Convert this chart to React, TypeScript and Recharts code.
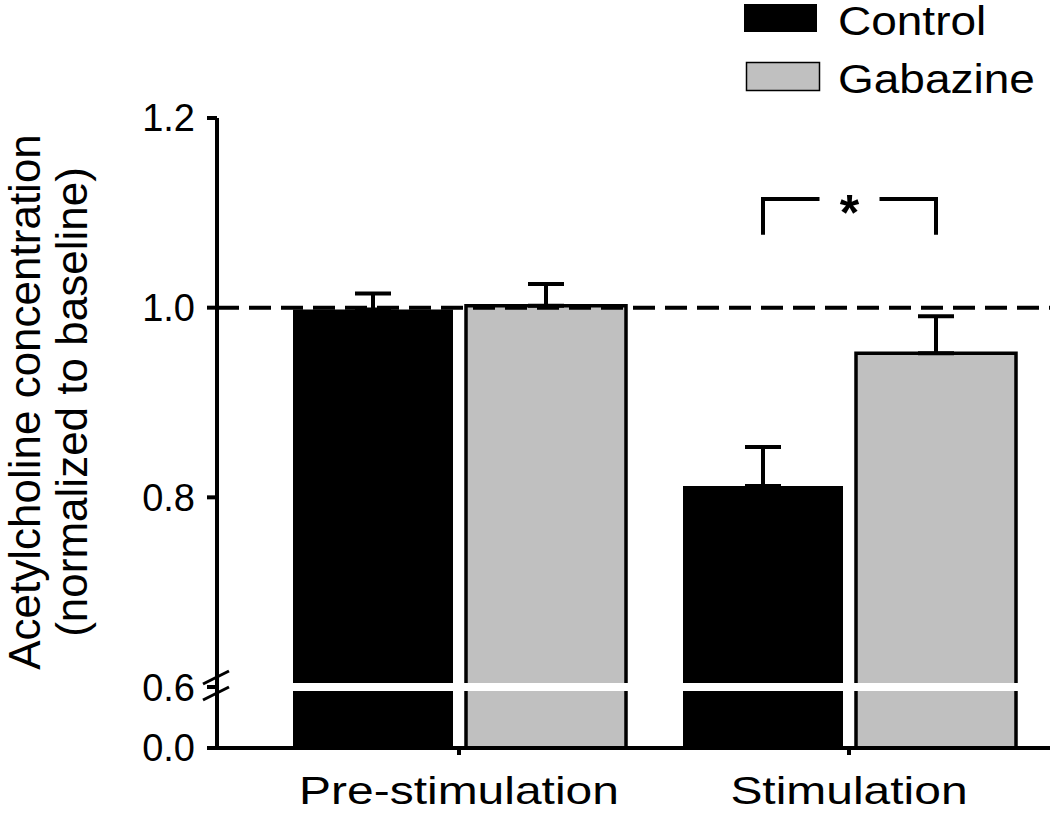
import { BarChart, Bar, XAxis, YAxis, ReferenceLine, ErrorBar, Legend } from "recharts";

const CATEGORIES = ["Pre-stimulation", "Stimulation"];
const CONTROL = [0.998, 0.812];
const CONTROL_ERR = [0.017, 0.041];
const GABAZINE = [1.002, 0.952];
const GABAZINE_ERR = [0.023, 0.039];

// broken axis: the 0.0–0.6 stretch is squeezed into a short stub under the break
const Y_MIN = 0.5357;
const Y_MAX = 1.2;
const Y_TICKS = [Y_MIN, 0.6, 0.8, 1.0, 1.2];
const Y_TICK_LABELS = ["0.0", "0.6", "0.8", "1.0", "1.2"];
const BREAK_AT = 0.6;
const BASELINE = 1.0;

// significance bracket over Stimulation (control vs gabazine)
const SIG_INDEX = 1;
const SIG_TOP = 1.1145;
const SIG_FOOT = 1.077;
const SIG_MARK = "*";

const FONT = "'Liberation Sans', Arial, Helvetica, sans-serif";
const BAR_SIZE = 160;
const BAR_GAP = 13;

const data = CATEGORIES.map((name, i) => ({
  name,
  control: CONTROL[i],
  controlErr: [0, CONTROL_ERR[i]],
  gabazine: GABAZINE[i],
  gabazineErr: [0, GABAZINE_ERR[i]],
}));

// the original figure's lettering is a touch wider than Arial, hence the scaleX
function XTick({ x, y, payload }: any) {
  return (
    <text
      transform={`translate(${x},${y + 47}) scale(1.23,1)`}
      textAnchor="middle"
      fontSize={39}
      fontFamily={FONT}
      fill="#000"
    >
      {payload.value}
    </text>
  );
}

function YTitle({ viewBox }: any) {
  const cy = viewBox.y + viewBox.height / 2 - 31;
  return (
    <g transform={`translate(${viewBox.x + 40},${cy}) rotate(-90)`} fontFamily={FONT} fontSize={44} fill="#000">
      <text x={0} y={0} textAnchor="middle">Acetylcholine concentration</text>
      <text x={0} y={47} textAnchor="middle">(normalized to baseline)</text>
    </g>
  );
}

// white gap across the bars plus the "//" on the axis
function AxisBreak(props: any) {
  const { x1, x2, y1 } = props;
  return (
    <g>
      <line x1={x1 - 12} x2={x2} y1={y1} y2={y1} stroke="#fff" strokeWidth={8} />
      <line x1={x1 - 14} y1={y1 - 3} x2={x1 + 12} y2={y1 - 16} stroke="#000" strokeWidth={3} />
      <line x1={x1 - 14} y1={y1 + 13} x2={x1 + 12} y2={y1} stroke="#000" strokeWidth={3} />
    </g>
  );
}

function SigBracket(props: any) {
  const { x, y, width, height, index } = props;
  if (index !== SIG_INDEX) return null;
  const value = typeof props.value === "number" ? props.value : CONTROL[index];
  const ppu = height / (value - Y_MIN);
  const xa = x + width / 2;
  const xb = xa + width + BAR_GAP;
  const mid = (xa + xb) / 2;
  const yTop = y - (SIG_TOP - value) * ppu;
  const yFoot = y - (SIG_FOOT - value) * ppu;
  return (
    <g>
      <polyline points={`${xa},${yFoot} ${xa},${yTop} ${mid - 30},${yTop}`} fill="none" stroke="#000" strokeWidth={4} />
      <polyline points={`${mid + 30},${yTop} ${xb},${yTop} ${xb},${yFoot}`} fill="none" stroke="#000" strokeWidth={4} />
      <text x={mid} y={yTop + 31} textAnchor="middle" fontSize={50} fontWeight="bold" fontFamily={FONT} fill="#000">
        {SIG_MARK}
      </text>
    </g>
  );
}

function LegendBox({ payload }: any) {
  return (
    <svg width={306} height={110}>
      {(payload || []).map((p: any, i: number) => {
        const stroke = p.payload?.stroke;
        return (
          <g key={p.value} transform={`translate(0,${i * 58})`}>
            <rect
              x={stroke ? 2.5 : 0}
              y={stroke ? 4.5 : 4}
              width={73}
              height={28}
              fill={p.color}
              stroke={stroke || "none"}
              strokeWidth={1.5}
            />
            <text transform="translate(94,35) scale(1.15,1)" fontSize={40} fontFamily={FONT} fill="#000">
              {p.value}
            </text>
          </g>
        );
      })}
    </svg>
  );
}

export default function App() {
  return (
    <div style={{ position: "absolute", left: 0, top: 0, width: 1050, height: 816, background: "#fff" }}>
      <BarChart
        width={1050}
        height={816}
        data={data}
        margin={{ top: 118, right: 0, left: 0, bottom: 8 }}
        barSize={BAR_SIZE}
        barGap={BAR_GAP}
      >
        <XAxis
          dataKey="name"
          height={60}
          padding={{ left: 47, right: 6 }}
          axisLine={{ stroke: "#000", strokeWidth: 4 }}
          tickLine={{ stroke: "#000", strokeWidth: 4 }}
          tickSize={7}
          tickMargin={2}
          tick={<XTick />}
          interval={0}
        />
        <YAxis
          type="number"
          width={217}
          domain={[Y_MIN, Y_MAX]}
          ticks={Y_TICKS}
          interval={0}
          allowDataOverflow
          tickFormatter={(_v: number, i: number) => Y_TICK_LABELS[i]}
          axisLine={{ stroke: "#000", strokeWidth: 4 }}
          tickLine={{ stroke: "#000", strokeWidth: 4 }}
          tickSize={10}
          tickMargin={12}
          tick={{ fontSize: 38, fill: "#000", fontFamily: FONT }}
          label={<YTitle />}
        />
        <Legend
          layout="vertical"
          align="center"
          verticalAlign="middle"
          wrapperStyle={{ left: 744, top: 0, width: 306, height: 110 }}
          content={<LegendBox />}
        />
        <Bar dataKey="control" name="Control" fill="#000" isAnimationActive={false} label={<SigBracket />}>
          <ErrorBar dataKey="controlErr" direction="y" width={18} stroke="#000" strokeWidth={4} isAnimationActive={false} />
        </Bar>
        <Bar dataKey="gabazine" name="Gabazine" fill="#c0c0c0" stroke="#000" strokeWidth={3.5} isAnimationActive={false}>
          <ErrorBar dataKey="gabazineErr" direction="y" width={18} stroke="#000" strokeWidth={4} isAnimationActive={false} />
        </Bar>
        <ReferenceLine y={BASELINE} stroke="#000" strokeWidth={4} strokeDasharray="22 10" />
        <ReferenceLine y={BREAK_AT} shape={<AxisBreak />} />
      </BarChart>
    </div>
  );
}
